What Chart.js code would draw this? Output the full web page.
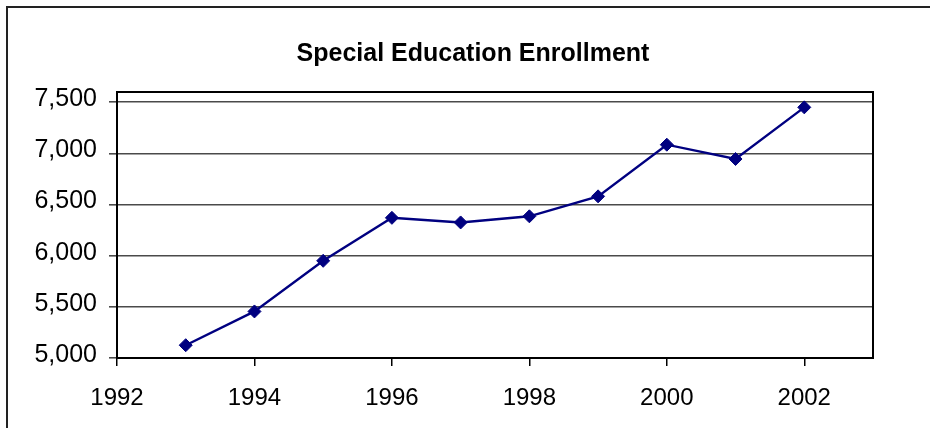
<!DOCTYPE html>
<html>
<head>
<meta charset="utf-8">
<script src="https://cdn.jsdelivr.net/npm/chart.js@4/dist/chart.umd.min.js"></script>
<style>
  body { margin: 0; background: #fff; }
  .chart-container { position: relative; width: 930px; height: 428px; }
</style>
</head>
<body>
<div class="chart-container">
  <canvas id="enrollmentChart" width="930" height="428"></canvas>
</div>
<script>
  const chartTitle = "Special Education Enrollment";
  const years = [1993, 1994, 1995, 1996, 1997, 1998, 1999, 2000, 2001, 2002];
  const enrollment = [5125, 5455, 5950, 6370, 6325, 6385, 6580, 7085, 6945, 7450];
  const yearTicks = [1992, 1994, 1996, 1998, 2000, 2002];
  const valueTicks = [5000, 5500, 6000, 6500, 7000, 7500];

  // frame round the whole chart (only top and left edges fall inside the canvas),
  // the black box round the plot area, and the title centred on the full frame
  const frames = {
    id: "frames",
    afterDraw(chart) {
      const ctx = chart.ctx;
      const a = chart.chartArea;
      ctx.save();
      ctx.strokeStyle = "#000";
      ctx.lineWidth = 2;
      ctx.strokeRect(a.left, a.top, a.right - a.left, a.bottom - a.top);
      ctx.strokeStyle = "#222";
      ctx.beginPath();
      ctx.moveTo(7, chart.height);
      ctx.lineTo(7, 7);
      ctx.lineTo(chart.width, 7);
      ctx.stroke();
      ctx.fillStyle = "#000";
      ctx.font = "bold 25px 'Liberation Sans'";
      ctx.textAlign = "center";
      ctx.textBaseline = "middle";
      ctx.fillText(chartTitle, 473, 54);
      ctx.restore();
    },
  };

  const ctx = document.getElementById("enrollmentChart").getContext("2d");
  const myChart = new Chart(ctx, {
    type: "line",
    data: {
      datasets: [
        {
          label: "Enrollment",
          data: years.map((y, i) => ({ x: y, y: enrollment[i] })),
          borderColor: "#000080",
          backgroundColor: "#000080",
          borderWidth: 2.4,
          pointStyle: "rectRot",
          pointRadius: 6.5,
          pointBorderWidth: 1,
          tension: 0,
        },
      ],
    },
    options: {
      responsive: false,
      animation: false,
      layout: { padding: { left: 0, right: 57, top: 92, bottom: 0 } },
      plugins: {
        legend: { display: false },
        tooltip: { enabled: false },
        title: { display: false },
      },
      scales: {
        x: {
          type: "linear",
          min: 1992,
          max: 2003,
          afterFit(scale) { scale.height = 70; },
          afterBuildTicks(scale) { scale.ticks = yearTicks.map(v => ({ value: v })); },
          ticks: {
            color: "#000",
            font: { family: "Liberation Sans", size: 24 },
            padding: 18,
            maxRotation: 0,
            callback: v => String(v),
          },
          grid: { drawOnChartArea: false, drawTicks: true, tickLength: 8, color: "#000", lineWidth: 1.5 },
          border: { display: false },
        },
        y: {
          min: 5000,
          max: 7600,
          afterFit(scale) { scale.width = 117; },
          afterBuildTicks(scale) { scale.ticks = valueTicks.map(v => ({ value: v })); },
          ticks: {
            color: "#000",
            font: { family: "Liberation Sans", size: 25 },
            padding: 12,
            labelOffset: -3,
            callback: v => v.toLocaleString("en-US"),
          },
          grid: { color: "#4a4a4a", lineWidth: 1.6, tickLength: 8 },
          border: { display: false },
        },
      },
    },
    plugins: [frames],
  });
</script>
</body>
</html>
